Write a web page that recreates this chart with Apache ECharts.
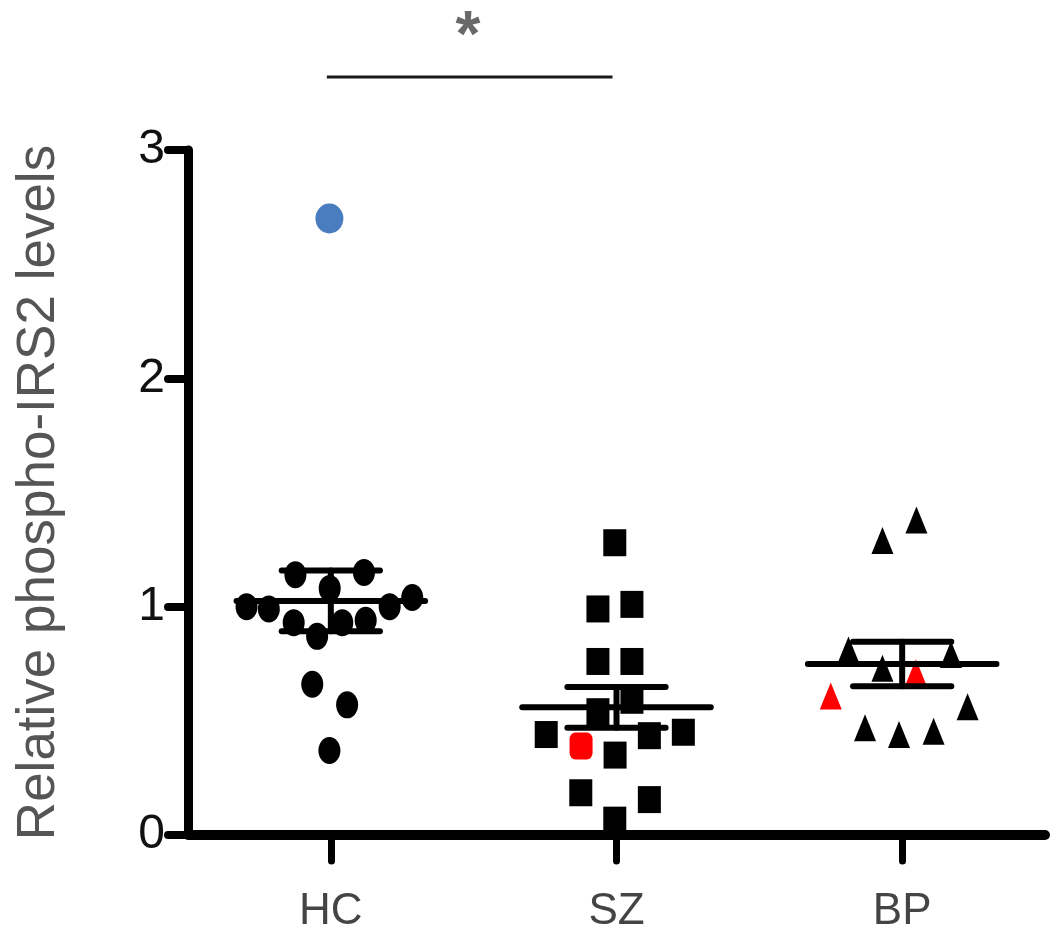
<!DOCTYPE html>
<html>
<head>
<meta charset="utf-8">
<title>Relative phospho-IRS2 levels</title>
<script src="https://cdn.jsdelivr.net/npm/echarts@6/dist/echarts.min.js"></script>
<style>
html, body { margin: 0; padding: 0; background: #fff; }
#chart { width: 1050px; height: 941px; }
</style>
</head>
<body>
<div id="chart"></div>
<script>
// groups and y ticks
const groups = ['HC', 'SZ', 'BP'];
const yTicks = [0, 1, 2, 3];

// HC: black circles (x = jitter offset from group centre, in group units)
const hcOffsets = [-0.295, -0.217, -0.124, -0.004, 0.116, -0.130, -0.048, 0.040, 0.122, 0.206, 0.285, -0.065, 0.057, -0.005];
const hcValues  = [1.00, 0.99, 1.14, 1.08, 1.15, 0.93, 0.87, 0.93, 0.94, 1.00, 1.04, 0.66, 0.57, 0.37];
// HC outlier (blue)
const hcBlueOffsets = [-0.005];
const hcBlueValues  = [2.70];

// SZ: black squares + one red
const szOffsets = [-0.006, -0.065, 0.054, -0.065, 0.054, 0.054, -0.065, -0.246, -0.005, 0.115, 0.234, -0.125, 0.115, -0.006];
const szValues  = [1.28, 0.99, 1.01, 0.76, 0.76, 0.59, 0.54, 0.44, 0.35, 0.435, 0.45, 0.185, 0.155, 0.065];
const szRedOffsets = [-0.124];
const szRedValues  = [0.39];

// BP: black triangles + two red
const bpOffsets = [0.050, -0.069, -0.188, 0.171, -0.069, -0.130, -0.011, 0.110, 0.229];
const bpValues  = [1.38, 1.29, 0.81, 0.79, 0.73, 0.47, 0.44, 0.454, 0.562];
const bpRedOffsets = [0.048, -0.250];
const bpRedValues  = [0.711, 0.609];

// mean and SEM per group
const means = [1.025, 0.559, 0.749];
const sems  = [0.133, 0.089, 0.097];

// significance bar HC vs SZ
const sigFrom = -0.014;
const sigTo = 0.986;
const sigLevel = 3.32;
const sigText = '*';
const sigTextAt = [0.48, 3.49];

function pts(groupIdx, offsets, values) {
  return values.map((v, i) => [groupIdx + offsets[i], v]);
}

const meanHalf = 0.33;
const capHalf = 0.172;
const font = 'Liberation Sans, Arial, sans-serif';

const chart = echarts.init(document.getElementById('chart'));

const option = {
  animation: false,
  backgroundColor: '#fff',
  grid: { left: 188, right: 5, top: 150, bottom: 106 },
  xAxis: [
    {
      type: 'category',
      data: groups,
      axisLine: { show: true, onZero: false, lineStyle: { color: '#000', width: 10 } },
      axisTick: { show: true, alignWithLabel: true, length: 26, lineStyle: { color: '#000', width: 7, cap: 'round' } },
      axisLabel: { fontSize: 44, color: '#444', margin: 55, fontFamily: font },
      splitLine: { show: false }
    },
    {
      type: 'value',
      min: -0.5,
      max: 2.5,
      show: false
    }
  ],
  yAxis: {
    type: 'value',
    min: 0,
    max: 3,
    interval: 1,
    name: 'Relative phospho-IRS2 levels',
    nameLocation: 'middle',
    nameGap: 122,
    nameTextStyle: { fontSize: 53, color: '#555', fontFamily: font },
    axisLine: { show: true, onZero: false, lineStyle: { color: '#000', width: 9 } },
    axisTick: { show: true, length: 20, lineStyle: { color: '#000', width: 8, cap: 'round' } },
    axisLabel: {
      fontSize: 48, color: '#111', margin: 23, fontFamily: font,
      formatter: v => (yTicks.indexOf(v) >= 0 ? String(v) : '')
    },
    splitLine: { show: false }
  },
  series: [
    {
      type: 'scatter', xAxisIndex: 1, symbol: 'circle', symbolSize: [22, 27],
      itemStyle: { color: '#000', opacity: 1 }, data: pts(0, hcOffsets, hcValues), z: 3
    },
    {
      type: 'scatter', xAxisIndex: 1, symbol: 'circle', symbolSize: [28, 30],
      itemStyle: { color: '#4a7dc0', opacity: 1 }, data: pts(0, hcBlueOffsets, hcBlueValues), z: 3
    },
    {
      type: 'scatter', xAxisIndex: 1, symbol: 'rect', symbolSize: [23, 27],
      itemStyle: { color: '#000', opacity: 1 }, data: pts(1, szOffsets, szValues), z: 3
    },
    {
      type: 'scatter', xAxisIndex: 1, symbol: 'roundRect', symbolSize: [23, 27],
      itemStyle: { color: '#ff0000', opacity: 1 }, data: pts(1, szRedOffsets, szRedValues), z: 3
    },
    {
      type: 'scatter', xAxisIndex: 1, symbol: 'triangle', symbolSize: [22, 27],
      itemStyle: { color: '#000', opacity: 1 }, data: pts(2, bpOffsets, bpValues), z: 3
    },
    {
      type: 'scatter', xAxisIndex: 1, symbol: 'triangle', symbolSize: [22, 27],
      itemStyle: { color: '#ff0000', opacity: 1 }, data: pts(2, bpRedOffsets, bpRedValues), z: 3
    },
    {
      // mean line + SEM bars
      type: 'custom',
      xAxisIndex: 1,
      z: 4,
      encode: { x: 0, y: 1 },
      data: means.map((m, i) => [i, m, sems[i]]),
      renderItem: function (params, api) {
        const x = api.value(0);
        const m = api.value(1);
        const s = api.value(2);
        const mid = api.coord([x, m]);
        const hi = api.coord([x, m + s]);
        const lo = api.coord([x, m - s]);
        const unit = api.size([1, 0])[0];
        const style = { stroke: '#000', lineWidth: 6, lineCap: 'round' };
        const seg = (x1, y1, x2, y2) => ({ type: 'line', shape: { x1, y1, x2, y2 }, style });
        return {
          type: 'group',
          children: [
            seg(mid[0] - meanHalf * unit, mid[1], mid[0] + meanHalf * unit, mid[1]),
            seg(hi[0], hi[1], lo[0], lo[1]),
            seg(hi[0] - capHalf * unit, hi[1], hi[0] + capHalf * unit, hi[1]),
            seg(lo[0] - capHalf * unit, lo[1], lo[0] + capHalf * unit, lo[1])
          ]
        };
      }
    },
    {
      // significance bar
      type: 'line',
      xAxisIndex: 1,
      clip: false,
      symbol: 'none',
      lineStyle: { color: '#1a1a1a', width: 3 },
      data: [[sigFrom, sigLevel], [sigTo, sigLevel]]
    },
    {
      type: 'scatter',
      xAxisIndex: 1,
      clip: false,
      symbolSize: 1,
      itemStyle: { color: 'rgba(0,0,0,0)' },
      label: {
        show: true, position: 'inside', formatter: sigText,
        fontSize: 64, fontWeight: 'bold', color: '#444', fontFamily: font
      },
      data: [sigTextAt]
    }
  ]
};

chart.setOption(option);
</script>
</body>
</html>
